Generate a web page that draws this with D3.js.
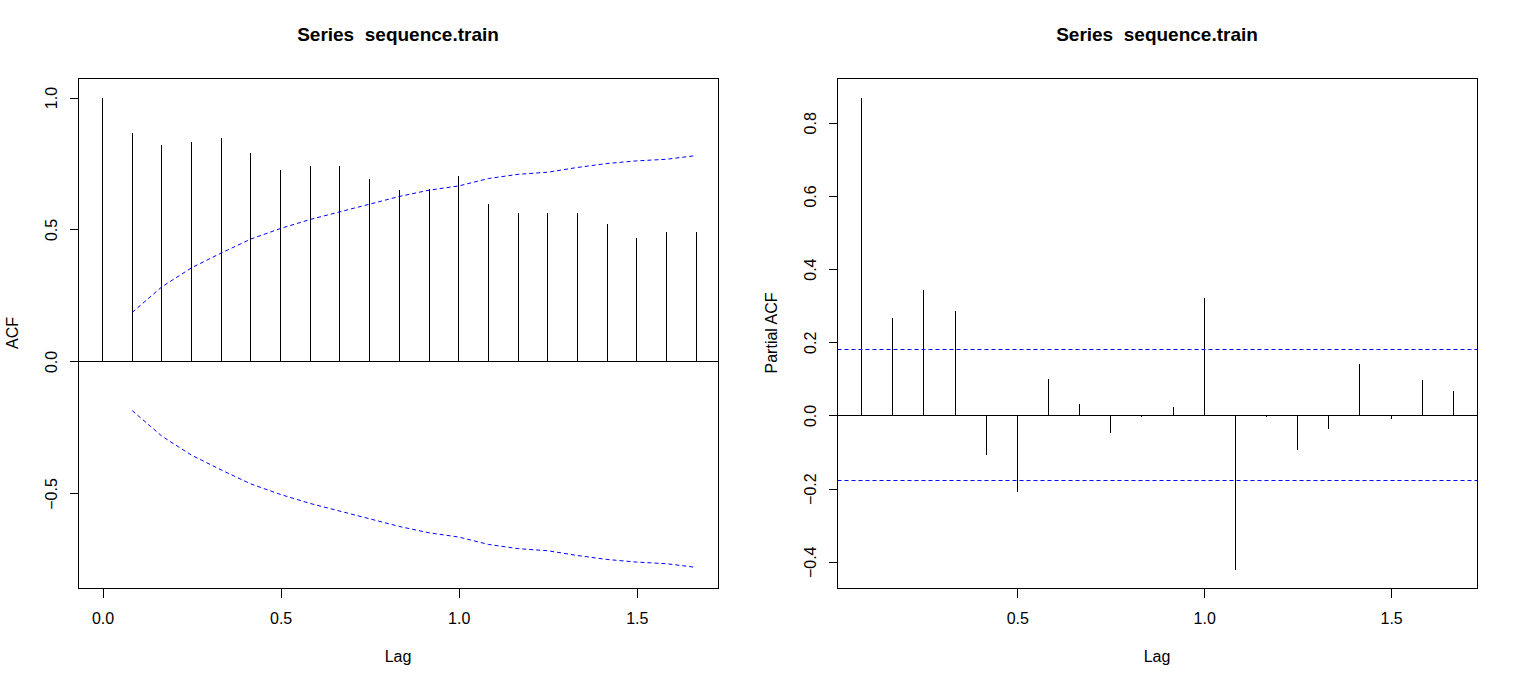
<!DOCTYPE html>
<html>
<head>
<meta charset="utf-8">
<script src="https://cdn.jsdelivr.net/npm/d3@7"></script>
<style>
  body { margin: 0; background: #fff; }
  svg { display: block; font-family: "Liberation Sans", Arial, sans-serif; }
  .axis text { font-size: 16px; fill: #000; }
  .axis line { stroke: #000; }
  .title { font-size: 19px; font-weight: bold; white-space: pre; }
  .axis-label { font-size: 16px; }
</style>
</head>
<body>
<div id="chart"></div>
<script>
// lag steps (months); lag in years = step / frequency
const frequency = 12;
const acfSteps = [0, 1, 2, 3, 4, 5, 6, 7, 8, 9, 10, 11, 12, 13, 14, 15, 16, 17, 18, 19, 20];
const acfValues = [1.000, 0.869, 0.823, 0.834, 0.849, 0.793, 0.728, 0.743, 0.743, 0.694,
  0.653, 0.656, 0.706, 0.600, 0.566, 0.566, 0.566, 0.524, 0.471, 0.494, 0.494];
// Bartlett band (ci.type = "ma"), starts at lag step 1
const acfBand = [0.186, 0.283, 0.355, 0.411, 0.464, 0.504, 0.538, 0.567, 0.596, 0.625,
  0.649, 0.665, 0.693, 0.709, 0.717, 0.735, 0.750, 0.760, 0.766, 0.780];

const pacfSteps = [1, 2, 3, 4, 5, 6, 7, 8, 9, 10, 11, 12, 13, 14, 15, 16, 17, 18, 19, 20];
const pacfValues = [0.869, 0.269, 0.343, 0.288, -0.108, -0.209, 0.101, 0.034, -0.047, -0.004,
  0.025, 0.323, -0.422, -0.004, -0.094, -0.037, 0.143, -0.008, 0.099, 0.069];
const pacfBound = 0.179;

const titleText = "Series  sequence.train";
const acfXTicks = [0, 0.5, 1.0, 1.5];
const acfYTicks = [-0.5, 0, 0.5, 1.0];
const pacfXTicks = [0.5, 1.0, 1.5];
const pacfYTicks = [-0.4, -0.2, 0, 0.2, 0.4, 0.6, 0.8];

const width = 1518, height = 686;

const svg = d3.select("#chart").append("svg")
    .attr("width", width)
    .attr("height", height);

function drawPanel(cfg) {
  const w = cfg.right - cfg.left;
  const h = cfg.bottom - cfg.top;

  const x = d3.scaleLinear().domain(cfg.xDomain).range([0, w]);
  const y = d3.scaleLinear().domain(cfg.yDomain).range([h, 0]);

  const g = svg.append("g")
      .attr("transform", `translate(${cfg.left + 0.5},${cfg.top + 0.5})`);

  // x axis
  const xAxisG = g.append("g")
      .attr("class", "axis")
      .attr("transform", `translate(0,${h})`)
      .call(d3.axisBottom(x).tickValues(cfg.xTicks).tickSize(9).tickFormat(d3.format(".1f")));
  xAxisG.select(".domain").remove();
  xAxisG.selectAll("line").attr("shape-rendering", "crispEdges");
  xAxisG.selectAll("text").attr("y", 35).attr("dy", 0).style("font-family", "inherit");

  // y axis with rotated labels
  const yAxisG = g.append("g")
      .attr("class", "axis")
      .call(d3.axisLeft(y).tickValues(cfg.yTicks).tickSize(9).tickFormat(d3.format(".1f")));
  yAxisG.select(".domain").remove();
  yAxisG.selectAll("line").attr("shape-rendering", "crispEdges");
  yAxisG.selectAll("text")
      .attr("x", 0)
      .attr("y", -22)
      .attr("dy", 0)
      .attr("transform", "rotate(-90)")
      .style("text-anchor", "middle")
      .style("font-family", "inherit");

  // zero line
  g.append("line")
      .attr("x1", 0).attr("x2", w)
      .attr("y1", Math.round(y(0))).attr("y2", Math.round(y(0)))
      .attr("stroke", "#000")
      .attr("shape-rendering", "crispEdges");

  // stems
  g.selectAll(".stem")
      .data(cfg.steps.map((s, i) => ({lag: s / frequency, value: cfg.values[i]})))
    .join("line")
      .attr("class", "stem")
      .attr("x1", d => Math.round(x(d.lag)))
      .attr("x2", d => Math.round(x(d.lag)))
      .attr("y1", Math.round(y(0)))
      .attr("y2", d => Math.round(y(d.value)))
      .attr("stroke", "#000")
      .attr("shape-rendering", "crispEdges");

  // confidence band
  if (cfg.band) {
    const bandData = cfg.band.map((b, i) => ({lag: (i + 1) / frequency, value: b}));
    [1, -1].forEach(sign => {
      g.append("path")
          .datum(bandData)
          .attr("d", d3.line().x(d => x(d.lag)).y(d => y(sign * d.value)))
          .attr("fill", "none")
          .attr("stroke", "#0000ff")
          .attr("stroke-width", 1)
          .attr("stroke-dasharray", "4,3");
    });
  }
  if (cfg.bound) {
    [cfg.bound, -cfg.bound].forEach(b => {
      g.append("line")
          .attr("x1", 0).attr("x2", w)
          .attr("y1", Math.round(y(b))).attr("y2", Math.round(y(b)))
          .attr("stroke", "#0000ff")
          .attr("stroke-width", 1.2)
          .attr("stroke-dasharray", "4,3");
    });
  }

  // box
  g.append("rect")
      .attr("width", w)
      .attr("height", h)
      .attr("fill", "none")
      .attr("stroke", "#000")
      .attr("shape-rendering", "crispEdges");

  // labels
  svg.append("text")
      .attr("class", "title")
      .attr("x", cfg.left + w / 2)
      .attr("y", 41)
      .attr("text-anchor", "middle")
      .attr("xml:space", "preserve")
      .text(titleText);

  svg.append("text")
      .attr("class", "axis-label")
      .attr("x", cfg.left + w / 2)
      .attr("y", 662)
      .attr("text-anchor", "middle")
      .text("Lag");

  svg.append("text")
      .attr("class", "axis-label")
      .attr("transform", `translate(${cfg.left - 60},${cfg.top + h / 2}) rotate(-90)`)
      .attr("text-anchor", "middle")
      .text(cfg.yLabel);
}

drawPanel({
  left: 78, right: 718, top: 78, bottom: 588,
  xDomain: [-0.0675, 1.7295],
  yDomain: [-0.860, 1.072],
  xTicks: acfXTicks,
  yTicks: acfYTicks,
  steps: acfSteps,
  values: acfValues,
  band: acfBand,
  yLabel: "ACF"
});

drawPanel({
  left: 837, right: 1477, top: 78, bottom: 588,
  xDomain: [0.019, 1.731],
  yDomain: [-0.473, 0.921],
  xTicks: pacfXTicks,
  yTicks: pacfYTicks,
  steps: pacfSteps,
  values: pacfValues,
  bound: pacfBound,
  yLabel: "Partial ACF"
});
</script>
</body>
</html>
